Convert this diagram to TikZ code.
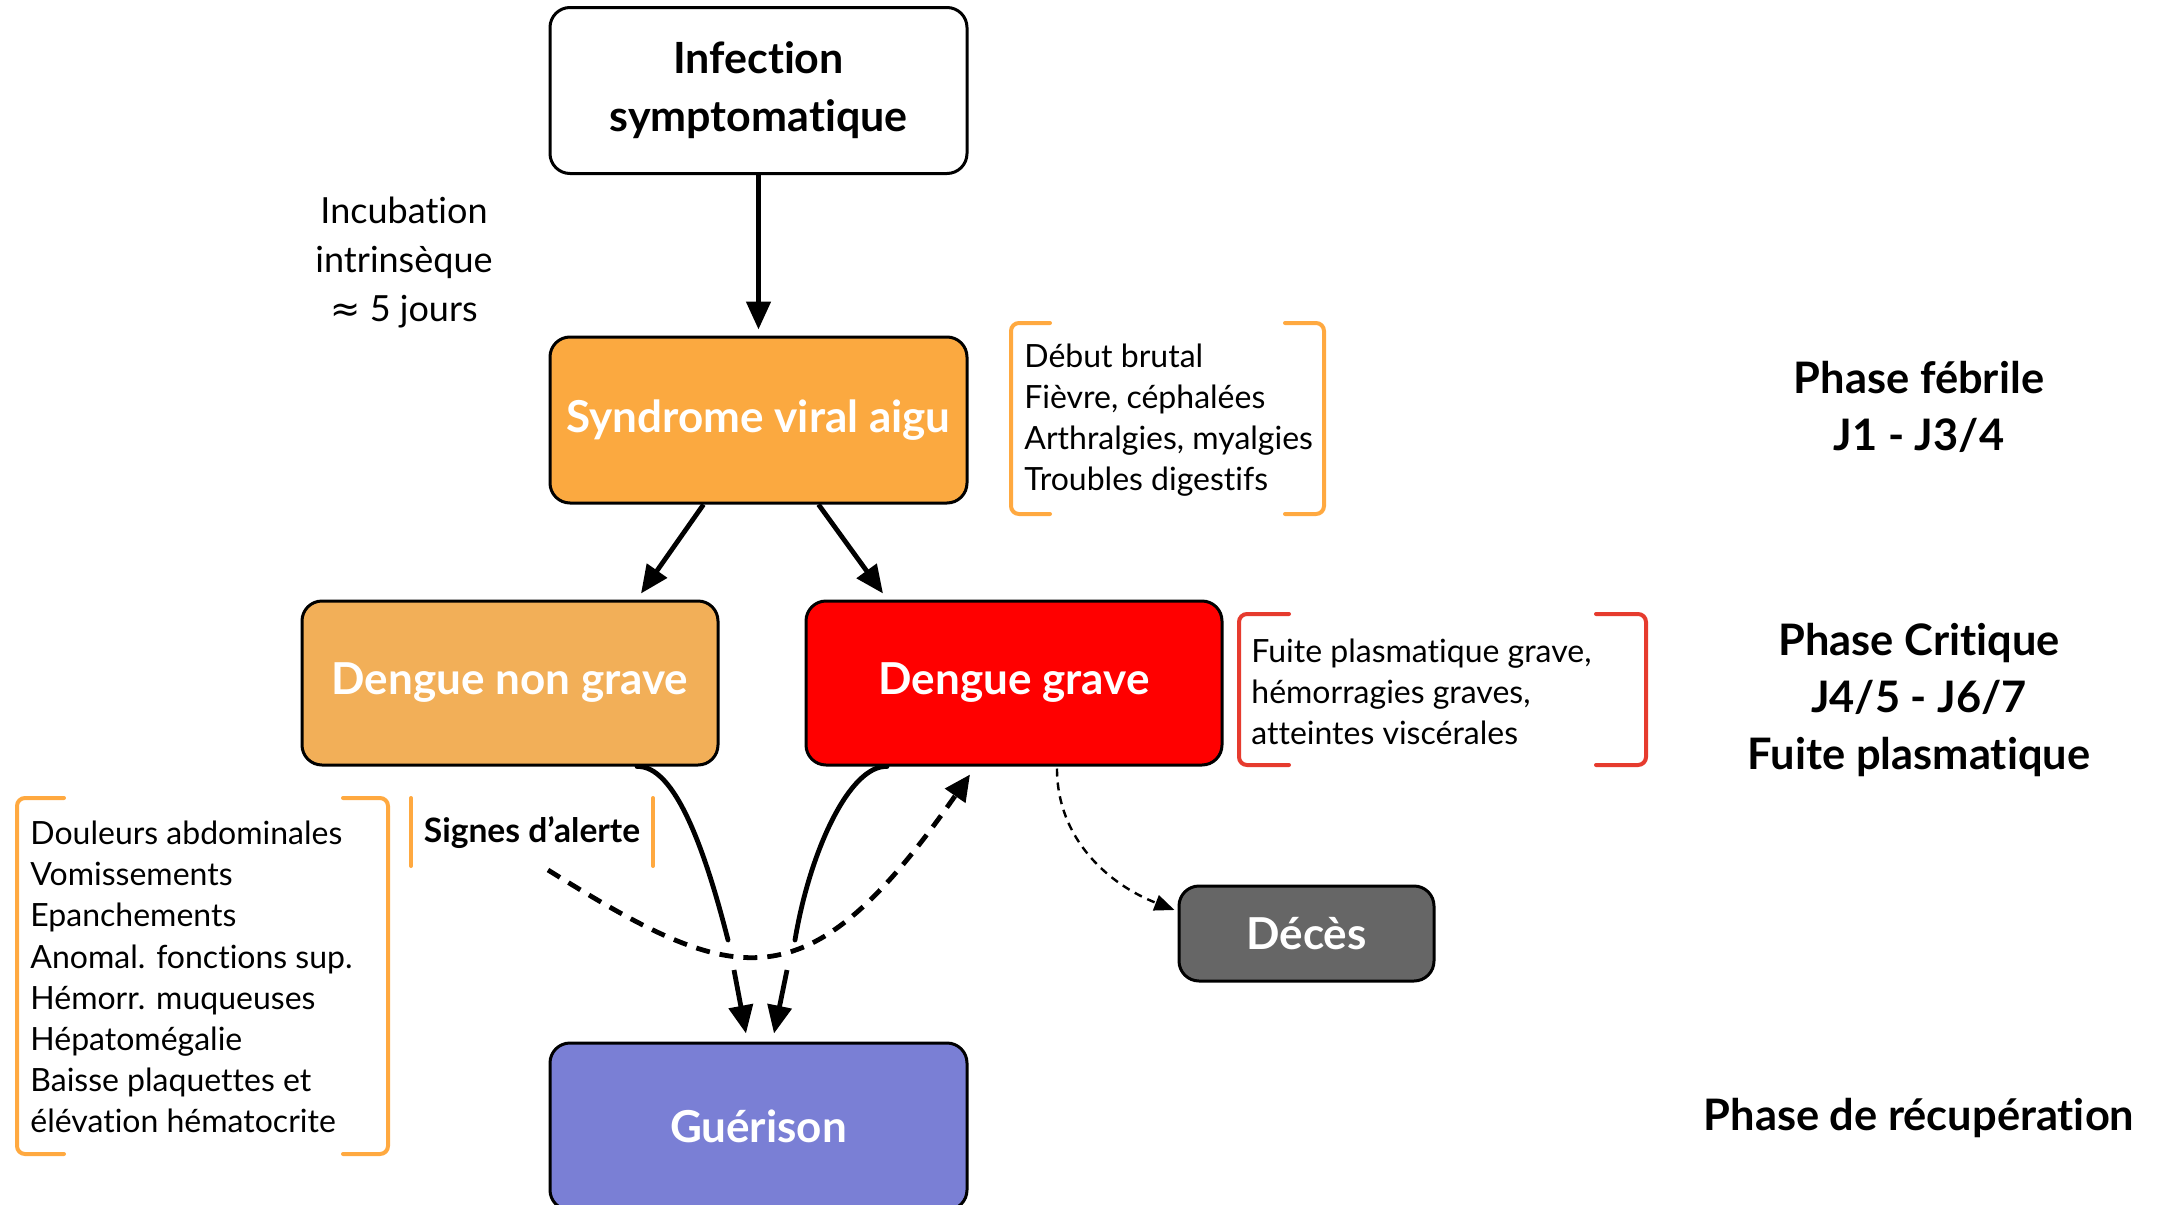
\documentclass[tikz,border=0pt]{standalone}
\usepackage{fontspec}
\setmainfont{Lato}[RawFeature=-liga]
\newfontfamily\symfont{DejaVu Sans}
\usetikzlibrary{arrows.meta,calc}
\definecolor{synC}{HTML}{FBA940}
\definecolor{dngC}{HTML}{F2AF58}
\definecolor{dgC}{HTML}{FF0000}
\definecolor{decC}{HTML}{666666}
\definecolor{gueC}{HTML}{7A7FD5}
\definecolor{brkO}{HTML}{FFA940}
\definecolor{brkR}{HTML}{E63B2E}
\begin{document}
\begin{tikzpicture}[x=0.5pt,y=-0.5pt,
  box/.style={draw=black, line width=1.5pt, rounded corners=10pt, minimum width=208.5pt, minimum height=83pt, align=center, inner sep=0pt, font=\fontsize{22}{29}\selectfont\bfseries, text=white},
  arr/.style={line width=2.4pt, -{Triangle[length=14pt,width=12pt]}},
  brk/.style={line width=2pt, line cap=round, rounded corners=4pt},
  body/.style={font=\fontsize{16}{20.6}\selectfont, align=left, inner sep=0pt, anchor=west},
  phase/.style={font=\fontsize{21.7}{28.5}\selectfont\bfseries, align=center, inner sep=0pt}]
\useasboundingbox (0,0) rectangle (2160,1205);

% boxes
\node[box, fill=white, text=black, font=\fontsize{21.5}{29}\selectfont\bfseries] (inf) at (758.5,90.5) {Infection\\symptomatique};
\node[box, fill=synC] (syn) at (758.5,420) {Syndrome viral aigu};
\node[box, fill=dngC, minimum width=208pt, minimum height=82pt] (dng) at (510,683) {Dengue non grave};
\node[box, fill=dgC, minimum width=208pt, minimum height=82pt] (dg) at (1014,683) {Dengue grave};
\node[box, fill=decC, minimum width=127.5pt, minimum height=47.5pt] (dec) at (1306.5,933.5) {Décès};
\node[box, fill=gueC, minimum height=83.5pt] (gue) at (758.5,1126.5) {Guérison};

% incubation
\node[font=\fontsize{18}{24.5}\selectfont, align=center, inner sep=0pt] (inc) at (404,263) {Incubation\\intrinsèque\\{\symfont ≈} 5 jours};

% brackets and their texts
\draw[brk, draw=brkO] (1050,323) -- (1011,323) -- (1011,514) -- (1050,514);
\draw[brk, draw=brkO] (1285,323) -- (1324,323) -- (1324,514) -- (1285,514);
\node[body] (sympt) at (1024,420) {Début brutal\\Fièvre, céphalées\\Arthralgies, myalgies\\Troubles digestifs};

\draw[brk, draw=brkR] (1289,614) -- (1239,614) -- (1239,765) -- (1289,765);
\draw[brk, draw=brkR] (1596,614) -- (1646,614) -- (1646,765) -- (1596,765);
\node[body] (sev) at (1251,692) {Fuite plasmatique grave,\\hémorragies graves,\\atteintes viscérales};

\draw[brk, draw=brkO] (64,798) -- (17,798) -- (17,1154) -- (64,1154);
\draw[brk, draw=brkO] (343,798) -- (388,798) -- (388,1154) -- (343,1154);
\node[body] (warn) at (30,977) {Douleurs abdominales\\Vomissements\\Epanchements\\Anomal. fonctions sup.\\Hémorr. muqueuses\\Hépatomégalie\\Baisse plaquettes et\\élévation hématocrite};

\draw[brk, draw=brkO] (411,798) -- (411,866);
\draw[brk, draw=brkO] (653,798) -- (653,866);
\node[font=\fontsize{16.8}{20}\selectfont\bfseries, inner sep=0pt] (sig) at (532,833) {Signes d’alerte};

% phase labels
\node[phase] (pf) at (1919,407) {Phase fébrile\\J1 - J3/4};
\node[phase] (pc) at (1919,700) {Phase Critique\\J4/5 - J6/7\\Fuite plasmatique};
\node[phase] (pr) at (1919,1118) {Phase de récupération};

% connectors
\draw[arr] (inf.south) -- ($(syn.north)+(0,-6)$);
\draw[arr] ($(syn.south)+(-55,0)$) -- ($(dng.north)+(131,-6)$);
\draw[arr] ($(syn.south)+(60,0)$) -- ($(dg.north)+(-131,-6)$);

\coordinate (j1a) at (728,940);
\coordinate (j1b) at (734,970);
\coordinate (j2a) at (795,940);
\coordinate (j2b) at (787,970);
\draw[line width=2.4pt, line cap=round] ($(dng.south)+(127,0)$) .. controls (675,765) and (705,850) .. (j1a);
\draw[arr] (j1b) -- ($(gue.north)+(-12.5,-8)$);
\draw[line width=2.4pt, line cap=round] ($(dg.south)+(-127,0)$) .. controls (850,765) and (810,850) .. (j2a);
\draw[arr] (j2b) -- ($(gue.north)+(15.5,-8)$);

\coordinate (alerte) at (548,870);
\draw[line width=2.4pt, dash pattern=on 7pt off 5pt, -{Triangle[length=13pt,width=12pt]}] (alerte) .. controls (735,986) and (805,1011) .. ($(dg.south)+(-44,8)$);

\draw[line width=1.2pt, dash pattern=on 4pt off 3pt, -{Triangle[length=10pt,width=8pt]}] ($(dg.south)+(43,2)$) .. controls (1057,840) and (1110,885) .. ($(dec.west)+(-3,-23.5)$);
\end{tikzpicture}
\end{document}
